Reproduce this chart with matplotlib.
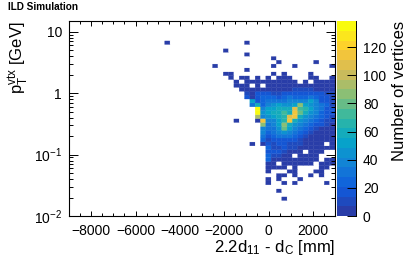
import numpy as np
import matplotlib
matplotlib.use("Agg")
import matplotlib.pyplot as plt
from matplotlib.colors import LinearSegmentedColormap, ListedColormap, BoundaryNorm
from matplotlib.ticker import LogLocator, NullFormatter, MultipleLocator

plt.rcParams['font.family'] = ['Liberation Sans', 'DejaVu Sans']
plt.rcParams['mathtext.fontset'] = 'custom'
plt.rcParams['mathtext.rm'] = 'Liberation Sans'
plt.rcParams['mathtext.it'] = 'Liberation Sans'
plt.rcParams['mathtext.default'] = 'regular'

# bin index -> counts, rows run from the top of the dense part downwards
first_col = 31
first_row = 36
dense_rows = [
    [0,0,0,0,0,0,0,1,0,1,0,0,0,0,1,0,0,0,0],
    [0,1,1,0,1,0,1,0,1,1,1,0,0,0,1,1,0,0,1],
    [1,0,2,2,2,1,2,2,2,3,3,2,0,2,0,2,2,2,3],
    [1,1,3,0,2,0,3,4,4,3,3,6,5,3,4,3,3,3,4],
    [0,1,3,2,6,4,6,6,6,6,5,12,10,8,7,6,5,5,6],
    [0,0,10,4,15,16,14,12,10,14,18,20,18,16,16,20,14,10,8],
    [0,0,20,6,17,22,24,22,18,24,28,25,25,27,30,25,15,16,8],
    [0,0,0,50,18,25,28,30,28,34,36,38,38,40,50,38,20,18,10],
    [0,0,0,30,60,22,36,45,50,44,48,52,85,50,45,40,30,22,12],
    [0,0,0,0,135,40,50,55,60,62,58,110,70,65,50,38,30,20,15],
    [0,0,0,0,135,45,55,60,58,70,60,115,80,60,45,35,25,18,14],
    [0,0,0,0,95,35,45,50,62,68,105,112,62,48,40,30,25,16,12],
    [1,0,0,0,3,115,38,40,50,65,112,60,45,35,28,22,18,12,8],
    [0,0,0,0,0,85,28,35,50,85,60,48,38,30,25,20,14,8,5],
    [0,0,0,0,0,40,30,32,42,80,50,38,30,25,18,12,6,5,4],
    [0,0,0,0,0,35,25,30,35,42,38,32,26,15,8,6,4,3,3],
    [0,0,0,0,0,30,18,25,28,30,28,22,18,8,4,4,3,3,2],
    [0,0,0,0,0,22,10,15,20,20,18,14,12,6,3,3,2,2,2],
    [0,0,0,1,0,6,14,10,16,18,12,10,8,4,3,2,2,0,2],
    [0,0,0,0,0,0,26,8,12,14,10,8,5,3,2,2,2,2,2],
    [0,0,0,0,0,0,20,20,16,10,6,5,3,0,3,2,2,0,0],
    [0,0,0,0,0,0,24,8,8,5,3,0,2,2,2,2,0,0,0],
    [0,0,0,0,0,0,22,5,5,4,3,2,3,2,2,2,0,2,1],
    [0,0,0,0,0,0,6,4,0,3,3,2,2,2,2,0,2,2,2],
    [0,0,0,0,0,0,4,3,2,2,0,2,0,0,0,0,2,1,0],
    [0,0,0,0,0,0,3,0,0,0,2,2,0,0,0,1,1,0,0],
    [0,0,0,0,0,0,0,0,2,2,0,2,0,0,1,0,1,0,0],
    [0,0,0,0,0,0,2,0,1,0,0,0,1,0,0,0,0,0,0],
    [0,0,0,0,0,0,1,0,0,1,0,1,0,0,0,0,0,1,0],
    [0,0,0,0,0,0,0,0,0,0,0,0,0,0,0,0,0,0,0],
    [0,0,0,0,0,0,0,0,1,0,0,0,0,0,0,0,0,0,0],
    [0,0,0,0,0,0,0,0,0,0,0,0,0,0,0,0,0,0,0],
    [0,0,0,0,0,0,0,0,0,1,0,0,0,0,0,0,0,0,0],
]
# isolated vertices away from the dense part
lone_cols = [18, 33, 29, 33, 38, 39, 46, 27, 38, 42, 49, 33, 29, 30, 30]
lone_rows = [44, 44, 42, 41, 40, 39, 39, 38, 38, 38, 38, 37, 36, 36, 35]

x_ticks = [-8000, -6000, -4000, -2000, 0, 2000]
x_labels = ['\u22128000', '\u22126000', '\u22124000', '\u22122000', '0', '2000']
y_ticks = [0.01, 0.1, 1, 10]
y_labels = ['$10^{-2}$', '$10^{-1}$', '1', '10']
cbar_ticks = [0, 20, 40, 60, 80, 100, 120]

# ROOT kBird palette, first stop lifted to what the picture shows
bird = [(0.16, 0.24, 0.66), (0.0592, 0.3599, 0.8684), (0.0780, 0.5041, 0.8385),
        (0.0232, 0.6419, 0.7914), (0.1802, 0.7178, 0.6425), (0.5301, 0.7492, 0.4662),
        (0.8186, 0.7328, 0.3499), (0.9956, 0.7862, 0.1968), (0.9764, 0.9832, 0.0539)]
base = LinearSegmentedColormap.from_list('bird', bird)
cmap = ListedColormap(base(np.linspace(0, 1, 20)))
cmap.set_bad('white')
vmax = 138.5
norm = BoundaryNorm(np.linspace(0, vmax, 21), 20)

counts = np.zeros((50, 50))
for r, row in enumerate(dense_rows):
    for c, v in enumerate(row):
        counts[first_row - r, first_col + c] = v
for c, r in zip(lone_cols, lone_rows):
    counts[r, c] = 1
counts = np.ma.masked_where(counts == 0, counts)

x_edges = np.linspace(-9000, 3000, 51)
y_edges = np.logspace(-2, np.log10(15), 51)

W, H = 407, 264
fig = plt.figure(figsize=(W / 100, H / 100), dpi=100)
ax = fig.add_axes([69 / W, 1 - 216 / H, 266 / W, 195 / H])
mesh = ax.pcolormesh(x_edges, y_edges, counts, cmap=cmap, norm=norm, antialiased=True,
                     edgecolors='face', linewidth=0.25)
mesh.set_snap(False)
ax.set_yscale('log')
ax.set_xlim(-9000, 3000)
ax.set_ylim(0.01, 15)

ax.set_xticks(x_ticks)
ax.set_xticklabels(x_labels)
ax.xaxis.set_minor_locator(MultipleLocator(500))
ax.set_yticks(y_ticks)
ax.set_yticklabels(y_labels)
ax.yaxis.set_minor_locator(LogLocator(base=10, subs=np.arange(2, 10), numticks=10))
ax.yaxis.set_minor_formatter(NullFormatter())
ax.tick_params(which='both', direction='in', top=True, right=True, width=0.7, labelsize=10)
ax.tick_params(axis='x', which='major', length=3.8, pad=6)
ax.tick_params(axis='x', which='minor', length=2.2)
ax.tick_params(axis='y', which='major', length=6.5, pad=5)
ax.tick_params(axis='y', which='minor', length=3.2)
for s in ax.spines.values():
    s.set_linewidth(0.8)

ax.set_xlabel('2.2d$_{11}$ - d$_{C}$ [mm]', fontsize=12, loc='right', labelpad=0)
ax.set_ylabel('p$_{T}^{vtx}$ [GeV]', fontsize=12, loc='top', labelpad=2)

cax = fig.add_axes([337 / W, 1 - 216 / H, 19 / W, 195 / H])
cb = fig.colorbar(mesh, cax=cax, spacing='proportional', ticks=cbar_ticks)
cb.outline.set_visible(False)
cb.dividers.set_visible(False)
cax.spines['right'].set_visible(True)
cax.spines['right'].set_linewidth(0.7)
cax.set_yticklabels([str(t) for t in cbar_ticks])
cax.tick_params(direction='in', length=6.5, width=0.7, labelsize=10, pad=5, right=True)
cax.minorticks_off()
cb.set_label('Number of vertices', fontsize=12, rotation=90, ha='right', va='center')
cax.yaxis.set_label_coords((400 - 337) / 19, 1.0)

fig.text(8 / W, 1 - 7 / H, 'ILD Simulation', fontsize=7.2, fontweight='bold', va='center')

fig.savefig('out.png', dpi=100)
